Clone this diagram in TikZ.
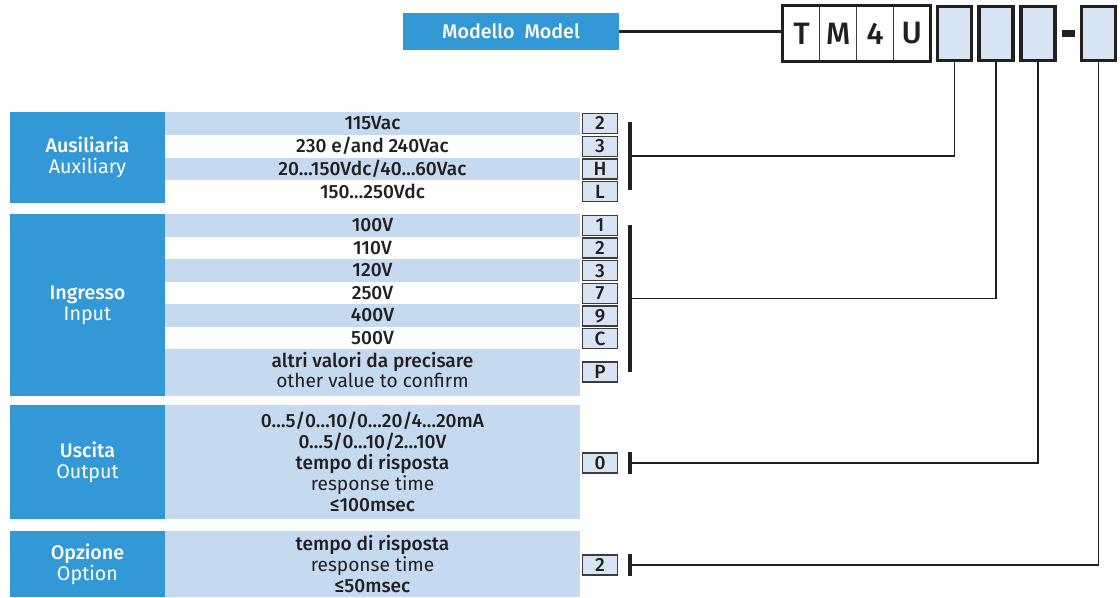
\documentclass[tikz,border=0pt]{standalone}
\usepackage{fontspec}
\IfFontExistsTF{Fira Sans Medium}{\setmainfont{Fira Sans}[BoldFont={Fira Sans Medium}]}{\setmainfont{Fira Sans}}
\usetikzlibrary{positioning, calc}
\definecolor{lblue}{HTML}{3399D6}
\definecolor{rowb}{HTML}{C5D9F1}
\definecolor{cellb}{HTML}{D7E4F4}
\definecolor{ink}{HTML}{231F20}
\definecolor{inkl}{HTML}{3C3C3C}
\def\px{0.025cm}
\tikzset{
  txt/.style={font=\fontsize{13.6}{14.9}\selectfont, inner sep=0pt, text=ink, align=center},
  lbox/.style={fill=lblue, text=white, minimum width=155*\px, inner sep=0pt, align=center, font=\fontsize{14}{14.9}\selectfont},
  code/.style={draw=inkl, fill=cellb, line width=0.9pt, minimum width=35*\px, minimum height=20*\px, inner sep=0pt, font=\fontsize{13.6}{14}\selectfont\bfseries, text=ink},
  bar/.style={fill=ink, minimum width=4*\px, inner sep=0pt},
  wire/.style={draw=ink, line width=0.8pt},
  sel/.style={draw=ink, fill=cellb, line width=2.2pt, minimum width=34*\px, minimum height=54*\px, inner sep=0pt},
  cell/.style={draw=inkl, line width=0.6pt, minimum width=36.75*\px, minimum height=55*\px, inner sep=0pt, font=\fontsize{22}{24}\selectfont\bfseries, text=ink}
}
\begin{document}
\begin{tikzpicture}[x=\px, y=-\px]
  \useasboundingbox (0,0) rectangle (1120,598);
  % model code
  \node[lbox, minimum width=216*\px, minimum height=37*\px, font=\fontsize{14}{14.9}\selectfont\bfseries] (model) at (511,31.5) {Modello\ \ Model};
  \foreach \l [count=\i from 0] in {T,M,4,U}{\node[cell] (t\l) at ({801.5+36.75*\i},33.5) {\l};}
  \draw[ink, line width=2.2pt] (tT.north west) rectangle (tU.south east);
  \node[sel] (s1) at (954.5,33.5) {};
  \node[sel] (s2) at (996,33.5) {};
  \node[sel] (s3) at (1038,33.5) {};
  \node[fill=ink, minimum width=13*\px, minimum height=7*\px, inner sep=0pt] (dash) at (1068,33) {};
  \node[sel] (s4) at (1098.5,33.5) {};
  \draw[ink, line width=1.6pt] (model.east) -- (model.east -| tT.west);
  % auxiliary
  \node[lbox, minimum height=91*\px] (aux) at (87.5,157.5) {\textbf{Ausiliaria}\\Auxiliary};
  \foreach \i in {0,2}{\fill[rowb] (165,{112+22.75*\i}) rectangle (580,{112+22.75*(\i+1)});}
  \foreach \t [count=\i from 0] in {115Vac,230 e/and 240Vac,20…150Vdc/40…60Vac,150…250Vdc}{
    \node[txt, font=\fontsize{13.6}{14.9}\selectfont\bfseries] (ta\i) at (372.5,{123.4+22.75*\i}) {\t};}
  \foreach \k [count=\i from 0] in {2,3,H,L}{\node[code] (ca\k) at (600,{123.4+22.75*\i}) {\k};}
  \node[bar, minimum height=68*\px] (ba) at (630,156) {};
  % input
  \node[lbox, minimum height=182*\px] (inp) at (87.5,305) {\textbf{Ingresso}\\Input};
  \foreach \i in {0,2,4}{\fill[rowb] (165,{214+22.5*\i}) rectangle (580,{214+22.5*(\i+1)});}
  \fill[rowb] (165,349) rectangle (580,396);
  \foreach \t [count=\i from 0] in {100V,110V,120V,250V,400V,500V}{
    \node[txt, font=\fontsize{13.6}{14.9}\selectfont\bfseries] (ti\i) at (372.5,{225.25+22.5*\i}) {\t};}
  \node[txt] (ti6) at (372.5,370) {\textbf{altri valori da precisare}\\other value to confirm};
  \foreach \k [count=\i from 0] in {1,2,3,7,9,C}{\node[code] (ci\k) at (600,{225.5+22.6*\i}) {\k};}
  \node[code] (ciP) at (600,372) {P};
  \node[bar, minimum height=147*\px] (bi) at (630,298.5) {};
  % output
  \node[lbox, minimum height=114*\px] (out) at (87.5,462) {\textbf{Uscita}\\Output};
  \fill[rowb] (165,405) rectangle (580,519);
  \node[txt] (to) at (372.5,462) {\textbf{0…5/0…10/0…20/4…20mA}\\\textbf{0…5/0…10/2…10V}\\\textbf{tempo di risposta}\\response time\\\textbf{≤100msec}};
  \node[code] (co0) at (600,463) {0};
  \node[bar, minimum height=22*\px] (bo) at (630,463) {};
  % option
  \node[lbox, minimum height=66*\px] (opt) at (87.5,564) {\textbf{Opzione}\\Option};
  \fill[rowb] (165,531) rectangle (580,597);
  \node[txt] (tp) at (372.5,564) {\textbf{tempo di risposta}\\response time\\\textbf{≤50msec}};
  \node[code] (cp2) at (600,565) {2};
  \node[bar, minimum height=22*\px] (bp) at (630,565) {};
  % connectors
  \draw[wire] (ba.east) -| (s1.south);
  \draw[wire] (bi.east) -| (s2.south);
  \draw[wire] (bo.east) -| (s3.south);
  \draw[wire] (bp.east) -| (s4.south);
\end{tikzpicture}
\end{document}
